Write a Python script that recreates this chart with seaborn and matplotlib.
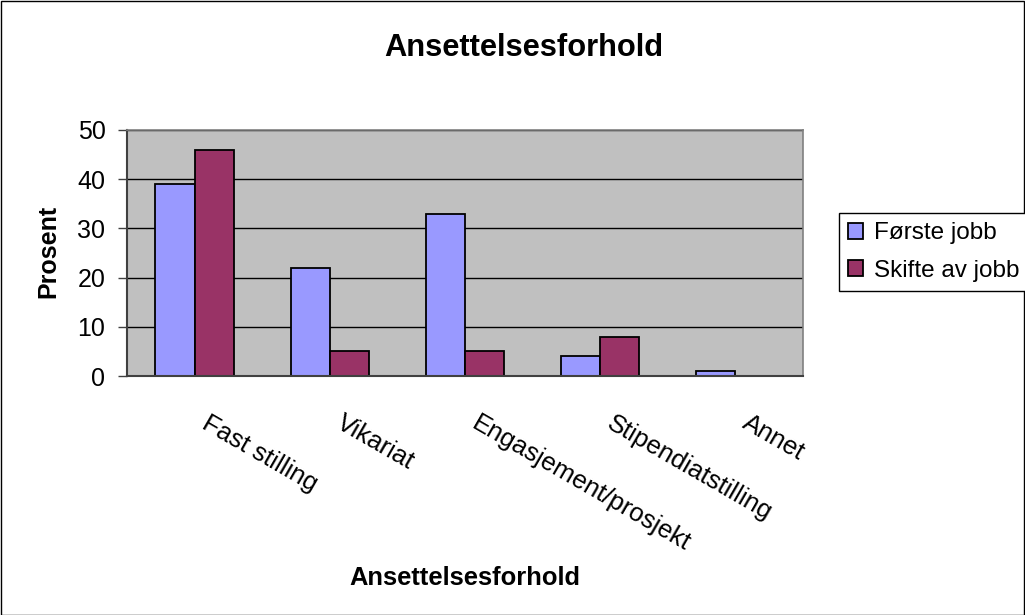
import matplotlib
matplotlib.use("Agg")
import matplotlib.pyplot as plt
import matplotlib.transforms as mtransforms
from matplotlib.patches import Rectangle
import seaborn as sns
import pandas as pd

categories = ["Fast stilling", "Vikariat", "Engasjement/prosjekt", "Stipendiatstilling", "Annet"]
series_names = ["Første jobb", "Skifte av jobb"]
forste_jobb = [39, 22, 33, 4, 1]
skifte_av_jobb = [46, 5, 5, 8, 0]
y_ticks = [0, 10, 20, 30, 40, 50]

title = "Ansettelsesforhold"
x_title = "Ansettelsesforhold"
y_title = "Prosent"

sns.set_style("white")
plt.rcParams["font.family"] = ["Liberation Sans", "DejaVu Sans"]
plt.rcParams["text.color"] = "black"
plt.rcParams["axes.labelcolor"] = "black"
plt.rcParams["xtick.color"] = "black"
plt.rcParams["ytick.color"] = "black"

df = pd.DataFrame({
    "kategori": categories * 2,
    "serie": [series_names[0]] * len(categories) + [series_names[1]] * len(categories),
    "prosent": forste_jobb + skifte_av_jobb,
})

W, H = 1025, 615
fig = plt.figure(figsize=(W / 100, H / 100), dpi=100)
fig.patch.set_facecolor("white")
ax = fig.add_axes([127 / W, 1 - 376 / H, (803 - 127) / W, (376 - 130) / H])
ax.set_facecolor("#C0C0C0")

sns.barplot(data=df, x="kategori", y="prosent", hue="serie", order=categories,
            hue_order=series_names, palette=["#9999FF", "#993366"], width=0.58,
            edgecolor="black", linewidth=1.3, saturation=1, ax=ax, legend=True)

ax.set_ylim(0, 50)
ax.set_xlim(-0.5, len(categories) - 0.5)
ax.set_yticks(y_ticks)
ax.set_yticklabels([str(v) for v in y_ticks], fontsize=18)
ax.yaxis.grid(True, color="black", linewidth=1.0)
ax.set_axisbelow(True)

# x ticks: labels at centres, tick marks at boundaries
ax.set_xticks(range(len(categories)))
ax.set_xticklabels(categories, fontsize=18.5, rotation=-30, ha="left", va="top",
                   rotation_mode="anchor")
ax.set_xticks([i - 0.5 for i in range(len(categories) + 1)], minor=True)
ax.tick_params(axis="x", which="major", length=0, pad=25)
ax.tick_params(axis="x", which="minor", length=5.5, width=1, color="#404040", direction="out")
ax.tick_params(axis="y", which="major", length=6.5, width=1, color="#404040", direction="out",
               pad=9, left=True)
offset = mtransforms.ScaledTranslation(15 / 100, 0, fig.dpi_scale_trans)
for lab in ax.get_xticklabels():
    lab.set_transform(lab.get_transform() + offset)

for side in ["left", "bottom"]:
    ax.spines[side].set_color("#404040")
    ax.spines[side].set_linewidth(1.5)
for side in ["top", "right"]:
    ax.spines[side].set_color("#808080")
    ax.spines[side].set_linewidth(1.2)

ax.set_xlabel(x_title, fontsize=18.4, fontweight="bold")
ax.xaxis.label.set_va("center")
ax.xaxis.set_label_coords(0.5, (376 - 578) / 246)
ax.set_ylabel(y_title, fontsize=18, fontweight="bold")
ax.yaxis.label.set_va("center")
ax.yaxis.set_label_coords((48 - 127) / 676, (376 - 251.5) / 246)

fig.text(523.5 / W, 1 - 47.5 / H, title, fontsize=22.2, fontweight="bold",
         ha="center", va="center")

handles, labels = ax.get_legend_handles_labels()
if ax.get_legend() is not None:
    ax.get_legend().remove()
leg = fig.legend(handles, labels, loc="center left", bbox_to_anchor=(839 / W, 1 - 252 / H),
                 bbox_transform=fig.transFigure, fontsize=17.5, frameon=True, fancybox=False,
                 edgecolor="black", framealpha=1, handlelength=0.6, handleheight=0.6,
                 handletextpad=0.45, labelspacing=0.62, borderpad=0.38, borderaxespad=0)
leg.get_frame().set_linewidth(1.0)

fig.patches.append(Rectangle((0.5 / W, 0.5 / H), 1 - 1.5 / W, 1 - 1.5 / H,
                             transform=fig.transFigure, fill=False, edgecolor="black",
                             linewidth=1.0))

fig.savefig("out.png", dpi=100)
